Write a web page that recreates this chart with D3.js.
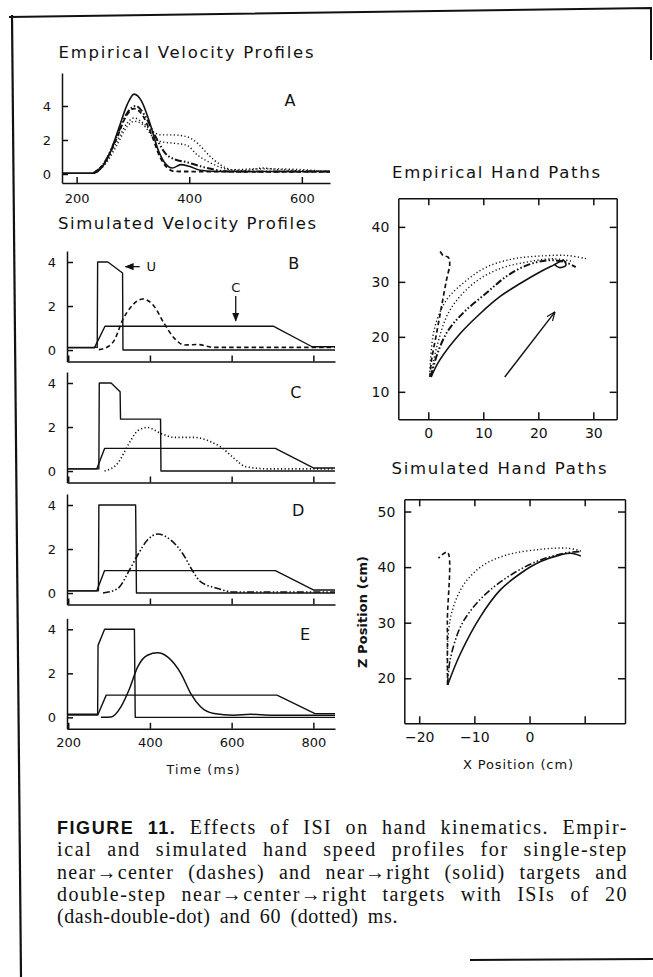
<!DOCTYPE html>
<meta charset="utf-8">
<script src="https://d3js.org/d3.v7.min.js"></script>
<style>
  body { margin: 0; background: #fff; }
  svg text { fill: #111; }
</style>
<div id="chart"></div>
<script>

// ---- data ----
// panel A: empirical speed profiles, [time ms, speed]
const solidA = [[174,0.05],[230,0.05],[245,0.4],[260,1.3],[275,2.7],[290,4.1],[302,4.7],[315,4.3],[330,3.0],[345,1.4],[358,0.6],[370,0.35],[385,0.55],[400,0.45],[420,0.22],[450,0.15],[650,0.15]];
const dashedA = [[230,0.05],[250,0.7],[270,2.0],[288,3.4],[302,3.85],[316,3.5],[332,2.4],[348,1.0],[360,0.4],[375,0.15],[650,0.12]];
const dashdotA = [[230,0.05],[250,0.7],[270,2.1],[290,3.6],[305,4.0],[320,3.5],[340,2.2],[358,1.2],[375,0.85],[395,0.7],[420,0.45],[445,0.25],[470,0.15],[650,0.15]];
const dotted1A = [[230,0.05],[250,0.6],[270,1.8],[290,3.0],[302,3.3],[318,3.0],[335,2.5],[350,2.3],[370,2.3],[395,2.2],[415,1.8],[435,1.1],[455,0.55],[475,0.25],[500,0.2],[530,0.35],[560,0.25],[650,0.15]];
const dotted2A = [[230,0.05],[250,0.55],[270,1.6],[290,2.8],[302,3.1],[318,2.9],[335,2.2],[350,1.9],[375,1.8],[395,1.7],[415,1.1],[435,0.7],[455,0.4],[475,0.25],[520,0.3],[550,0.3],[650,0.15]];

// panels B-E: simulated, U signal, C signal and hand speed
const uB = [[197,0.12],[271,0.12],[272,4.0],[297,4.0],[333,3.5],[334,0],[853,0]];
const cB = [[197,0.1],[264,0.1],[290,1.08],[703,1.08],[797,0.15],[853,0.15]];
const speedB = [[275,0.02],[292,0.1],[313,0.45],[333,1.36],[354,1.97],[383,2.32],[411,1.97],[435,1.2],[460,0.53],[484,0.23],[516,0.25],[557,0.12],[853,0.12]];

const uC = [[197,0.1],[275,0.1],[276,4.0],[305,4.0],[327,3.6],[328,2.36],[426,2.36],[427,0],[853,0]];
const cC = [[197,0.1],[270,0.1],[289,1.03],[707,1.03],[800,0.14],[853,0.14]];
const speedC = [[289,0],[321,0.35],[349,1.26],[370,1.83],[394,1.98],[427,1.71],[459,1.53],[508,1.53],[549,1.33],[573,1.1],[606,0.58],[634,0.2],[690,0.1],[853,0.1]];

const uD = [[197,0.1],[274,0.1],[275,4.0],[365,4.0],[367,0],[853,0]];
const cD = [[197,0.1],[270,0.1],[289,1.02],[707,1.02],[800,0.14],[853,0.14]];
const speedD = [[285,0],[321,0.2],[350,1.05],[370,1.73],[394,2.41],[419,2.68],[451,2.41],[480,1.8],[508,0.9],[523,0.53],[564,0.22],[605,0.05],[853,0.05]];

const uE = [[197,0.14],[272,0.14],[273,3.27],[289,4.0],[362,4.0],[364,0],[853,0]];
const cE = [[197,0.1],[272,0.1],[293,1.01],[711,1.01],[804,0.17],[853,0.17]];
const speedE = [[280,0],[305,0.02],[329,0.48],[350,1.3],[370,2.29],[394,2.82],[419,2.93],[443,2.75],[476,1.99],[500,1.08],[524,0.48],[557,0.17],[605,0.1],[646,0.14],[700,0.1],[853,0.1]];

// empirical hand paths, [X cm, Z cm]
const solidH = [[0.5,12.7],[2.1,15.8],[5.8,20.6],[9.4,24.2],[13.0,27.3],[16.7,29.7],[20.3,31.8],[22.7,33.0],[24.6,33.9],[25.0,33.0],[23.8,32.6],[22.9,33.2]];
const dashedH = [[0.3,12.7],[0.6,15.8],[1.5,20.6],[2.4,25.5],[3.3,30.3],[3.9,33.3],[3.6,34.5],[2.7,34.8],[2.0,35.8]];
const dashdotH = [[0.5,12.7],[1.5,16.5],[3.5,21],[6.5,24.5],[10.6,28],[14.2,31],[17.9,33.0],[21.5,33.9],[24.5,33.7],[26.8,32.7]];
const dotted1H = [[0.3,13],[0.4,15.8],[1.2,21.8],[3.3,26.7],[7,30.3],[10.6,32.7],[15.5,34.2],[20.3,34.7],[25.2,34.8],[28.8,34.2]];
const dotted2H = [[0.5,13],[1.5,18],[3.9,24.8],[8.2,29.7],[13,32.4],[17.9,33.6],[22.7,34.2],[26.4,33.7]];
const arrowH = [[13.9,12.7],[23,24.5]];

// simulated hand paths
const solidS = [[-14.85,18.8],[-12.5,24.5],[-8.9,31.1],[-5.3,35.9],[-1.6,38.9],[2,41],[5.6,42.2],[7.5,42.5],[9.3,42]];
const dashdotS = [[-14.85,18.8],[-14.4,23.3],[-12.5,29.3],[-10.1,32.9],[-7.1,35.9],[-2.9,38.9],[2,41.3],[6.9,42.6],[9.3,42.8]];
const dottedS = [[-14.85,18.8],[-14.9,24.5],[-14.4,30.5],[-13.1,34.7],[-11.3,37.7],[-8.3,40.4],[-4.1,42.2],[2,43.2],[6.9,43.4],[9.3,42.9]];
const dashedS = [[-14.85,18.8],[-14.9,30],[-14.9,42.7],[-16.5,41.6]];

// ticks
const ticksA_x = [200,400,600];
const ticksSim_x = [200,400,600,800];
const ticksVel_y = [0,2,4];
const ticksEmp_x = [0,10,20,30], ticksEmp_y = [10,20,30,40];
const ticksSimP_x = [-20,-10,0,10], ticksSimP_y = [20,30,40,50];

const captionLines = [
  ["FIGURE 11.", " Effects of ISI on hand kinematics. Empir-"],
  ["", "ical and simulated hand speed profiles for single-step"],
  ["", "near\u2192center (dashes) and near\u2192right (solid) targets and"],
  ["", "double-step near\u2192center\u2192right targets with ISIs of 20"],
  ["", "(dash-double-dot) and 60 (dotted) ms."]
];

// ---- drawing ----
const W = 653, H = 977;
const svg = d3.select("#chart").append("svg").attr("width", W).attr("height", H);
const FONT = "DejaVu Sans";
const fmt = d3.format("d");
const dash = { solid: null, dashed: "4.5,3", dashdot: "7,2.2,1.5,2.2,1.5,2.2", dotted: "1.2,2.4" };

const defs = svg.append("defs");
defs.append("marker").attr("id", "head").attr("viewBox", "0 0 10 10").attr("refX", 9).attr("refY", 5)
  .attr("markerWidth", 7).attr("markerHeight", 7).attr("orient", "auto")
  .append("path").attr("d", "M0,1 L10,5 L0,9 Z").attr("fill", "#111");
defs.append("marker").attr("id", "openhead").attr("viewBox", "0 0 10 10").attr("refX", 9.5).attr("refY", 5)
  .attr("markerWidth", 9).attr("markerHeight", 9).attr("orient", "auto").attr("markerUnits", "userSpaceOnUse")
  .append("path").attr("d", "M0,1 L10,5 L0,9").attr("fill", "none").attr("stroke", "#111").attr("stroke-width", 1.3);

// frame
svg.append("path").attr("d", "M9,17 L651,8 L651,60").attr("fill", "none").attr("stroke", "#111").attr("stroke-width", 2);
svg.append("path").attr("d", "M12,15 L21,977").attr("fill", "none").attr("stroke", "#111").attr("stroke-width", 2.2);
svg.append("path").attr("d", "M470,960 L653,959").attr("fill", "none").attr("stroke", "#111").attr("stroke-width", 2);

function styleAxis(g, size) {
  g.selectAll("path,line").attr("stroke", "#111").attr("stroke-width", 1.5);
  g.selectAll("text").attr("font-family", FONT).attr("font-size", size || 13).attr("fill", "#111");
  g.attr("font-family", null).attr("font-size", null);
}

function title(txt, cx, y, width) {
  svg.append("text").attr("x", cx).attr("y", y).attr("text-anchor", "middle")
    .attr("font-family", FONT).attr("font-size", 16.5)
    .attr("textLength", width).attr("lengthAdjust", "spacing").text(txt);
}

function drawLine(g, data, x, y, style, curve, width) {
  g.append("path").datum(data)
    .attr("fill", "none").attr("stroke", "#111")
    .attr("stroke-width", width || 1.5)
    .attr("stroke-dasharray", dash[style])
    .attr("stroke-linejoin", "round")
    .attr("d", d3.line().x(d => x(d[0])).y(d => y(d[1])).curve(curve || d3.curveLinear));
}

// panel A
title("Empirical Velocity Profiles", 186, 58, 255);
const xA = d3.scaleLinear().domain([174, 650]).range([62, 330]);
const yA = d3.scaleLinear().domain([-0.53, 5.94]).range([183, 73]);
const gA = svg.append("g");
gA.append("g").attr("transform", `translate(0,${yA.range()[0]})`)
  .call(d3.axisBottom(xA).tickValues(ticksA_x).tickFormat(fmt).tickSizeInner(-6).tickSizeOuter(0).tickPadding(11))
  .call(styleAxis);
gA.append("g").attr("transform", `translate(${xA.range()[0]},0)`)
  .call(d3.axisLeft(yA).tickValues(ticksVel_y).tickFormat(fmt).tickSizeInner(-6).tickSizeOuter(0).tickPadding(11))
  .call(styleAxis);
const smooth = d3.curveMonotoneX;
drawLine(gA, dotted1A, xA, yA, "dotted", smooth, 1.4);
drawLine(gA, dotted2A, xA, yA, "dotted", smooth, 1.4);
drawLine(gA, dashdotA, xA, yA, "dashdot", smooth, 2);
drawLine(gA, dashedA, xA, yA, "dashed", smooth, 1.8);
drawLine(gA, solidA, xA, yA, "solid", smooth, 1.6);
gA.append("text").attr("x", xA(579)).attr("y", yA(4.35)).attr("dy", "0.36em").attr("text-anchor", "middle")
  .attr("font-family", FONT).attr("font-size", 16).text("A");

title("Simulated Velocity Profiles", 187, 229, 258);

// panels B-E
const xS = d3.scaleLinear().domain([197, 853]).range([67, 335]);
const panels = [
  { zero: 350, u: uB, c: cB, v: speedB, style: "dashed", label: "B", lx: 752, ly: 3.95 },
  { zero: 471, u: uC, c: cC, v: speedC, style: "dotted", label: "C", lx: 757, ly: 3.6 },
  { zero: 593, u: uD, c: cD, v: speedD, style: "dashdot", label: "D", lx: 763, ly: 3.77 },
  { zero: 717.3, u: uE, c: cE, v: speedE, style: "solid", label: "E", lx: 780, ly: 3.79 }
];
panels.forEach((p, i) => {
  const y = d3.scaleLinear().domain([-0.52, 4.5]).range([p.zero + 11.5, p.zero - 99]);
  const g = svg.append("g");
  const last = i === panels.length - 1;
  g.append("g").attr("transform", `translate(0,${y.range()[0]})`)
    .call(d3.axisBottom(xS).tickValues(ticksSim_x).tickSizeInner(-6).tickSizeOuter(0).tickPadding(9)
      .tickFormat(last ? fmt : () => ""))
    .call(styleAxis);
  g.append("g").attr("transform", `translate(${xS.range()[0]},0)`)
    .call(d3.axisLeft(y).tickValues(ticksVel_y).tickFormat(fmt).tickSizeInner(-6).tickSizeOuter(0).tickPadding(11))
    .call(styleAxis);
  drawLine(g, p.c, xS, y, "solid", d3.curveLinear, 1.4);
  drawLine(g, p.u, xS, y, "solid", d3.curveLinear, 1.4);
  drawLine(g, p.v, xS, y, p.style, smooth, p.style === "solid" ? 1.5 : 1.6);
  g.append("text").attr("x", xS(p.lx)).attr("y", y(p.ly)).attr("dy", "0.36em").attr("text-anchor", "middle")
    .attr("font-family", FONT).attr("font-size", 16).text(p.label);
  if (p.label === "B") {
    g.append("line").attr("x1", xS(375)).attr("x2", xS(340)).attr("y1", y(3.79)).attr("y2", y(3.79))
      .attr("stroke", "#111").attr("stroke-width", 1.3).attr("marker-end", "url(#head)");
    g.append("text").attr("x", xS(403)).attr("y", y(3.79)).attr("dy", "0.36em").attr("text-anchor", "middle")
      .attr("font-family", FONT).attr("font-size", 13).text("U");
    g.append("line").attr("x1", xS(610)).attr("x2", xS(610)).attr("y1", y(2.45)).attr("y2", y(1.33))
      .attr("stroke", "#111").attr("stroke-width", 1.3).attr("marker-end", "url(#head)");
    g.append("text").attr("x", xS(610)).attr("y", y(2.86)).attr("dy", "0.36em").attr("text-anchor", "middle")
      .attr("font-family", FONT).attr("font-size", 13).text("C");
  }
});
svg.append("text").attr("x", xS(530)).attr("y", 774).attr("text-anchor", "middle")
  .attr("font-family", FONT).attr("font-size", 12.5).attr("textLength", 73).text("Time (ms)");

// hand path panels
function boxPanel(xs, ys, xt, yt, xfmt) {
  const g = svg.append("g");
  const [x0, x1] = xs.range(), [y0, y1] = ys.range();
  g.append("g").attr("transform", `translate(0,${y0})`)
    .call(d3.axisBottom(xs).tickValues(xt).tickSizeInner(-7).tickSizeOuter(0).tickPadding(9).tickFormat(xfmt)).call(styleAxis);
  g.append("g").attr("transform", `translate(0,${y1})`)
    .call(d3.axisTop(xs).tickValues(xt).tickSizeInner(-7).tickSizeOuter(0).tickFormat(() => "")).call(styleAxis);
  g.append("g").attr("transform", `translate(${x0},0)`)
    .call(d3.axisLeft(ys).tickValues(yt).tickFormat(fmt).tickSizeInner(-7).tickSizeOuter(0).tickPadding(9)).call(styleAxis, 14);
  g.append("g").attr("transform", `translate(${x1},0)`)
    .call(d3.axisRight(ys).tickValues(yt).tickSizeInner(-7).tickSizeOuter(0).tickFormat(() => "")).call(styleAxis);
  g.selectAll(".tick text").attr("font-size", 14);
  return g;
}
const catmull = d3.curveCatmullRom.alpha(0.5);

title("Empirical Hand Paths", 496, 178, 208);
const xE = d3.scaleLinear().domain([-5.45, 34.25]).range([398.3, 616.7]);
const yE = d3.scaleLinear().domain([5, 45.2]).range([419.3, 198.3]);
const gE = boxPanel(xE, yE, ticksEmp_x, ticksEmp_y, fmt);
drawLine(gE, dotted1H, xE, yE, "dotted", catmull, 1.4);
drawLine(gE, dotted2H, xE, yE, "dotted", catmull, 1.4);
drawLine(gE, dashdotH, xE, yE, "dashdot", catmull, 2);
drawLine(gE, dashedH, xE, yE, "dashed", catmull, 1.7);
drawLine(gE, solidH, xE, yE, "solid", catmull, 1.6);
gE.append("line").attr("x1", xE(arrowH[0][0])).attr("y1", yE(arrowH[0][1]))
  .attr("x2", xE(arrowH[1][0])).attr("y2", yE(arrowH[1][1]))
  .attr("stroke", "#111").attr("stroke-width", 1.4).attr("marker-end", "url(#openhead)");

title("Simulated Hand Paths", 499, 474, 215);
const xP = d3.scaleLinear().domain([-22.7, 17.3]).range([404.3, 625]);
const yP = d3.scaleLinear().domain([11.9, 52.2]).range([723.3, 499.3]);
const gP = boxPanel(xP, yP, ticksSimP_x, ticksSimP_y, d => d > 5 ? "" : fmt(d));
drawLine(gP, dottedS, xP, yP, "dotted", catmull, 1.4);
drawLine(gP, dashdotS, xP, yP, "dashdot", catmull, 1.6);
drawLine(gP, dashedS, xP, yP, "dashed", catmull, 1.6);
drawLine(gP, solidS, xP, yP, "solid", catmull, 1.6);
svg.append("text").attr("x", 518).attr("y", 769).attr("text-anchor", "middle")
  .attr("font-family", FONT).attr("font-size", 13).attr("textLength", 110).text("X Position (cm)");
svg.append("text").attr("transform", "translate(367,612) rotate(-90)").attr("text-anchor", "middle")
  .attr("font-family", FONT).attr("font-size", 13).attr("font-weight", "bold").attr("textLength", 112).text("Z Position (cm)");

// caption: justified, extra width shared by letter gaps and word gaps
captionLines.forEach((ln, i) => {
  const t = svg.append("text").attr("x", 57).attr("y", 834 + i * 22.3)
    .attr("font-family", "Liberation Serif").attr("font-size", 20);
  if (ln[0]) t.append("tspan").attr("font-family", "Liberation Sans").attr("font-weight", "bold").attr("font-size", 18).text(ln[0]);
  t.append("tspan").text(ln[1]);
  const target = i < captionLines.length - 1 ? 571 : 341;
  const len = t.node().getComputedTextLength();
  const str = ln[0] + ln[1];
  const gaps = str.split(" ").length - 1;
  const extra = Math.max(0, target - len);
  t.attr("letter-spacing", (extra * 0.6) / str.length)
   .attr("word-spacing", (extra * 0.4) / gaps);
});

</script>
